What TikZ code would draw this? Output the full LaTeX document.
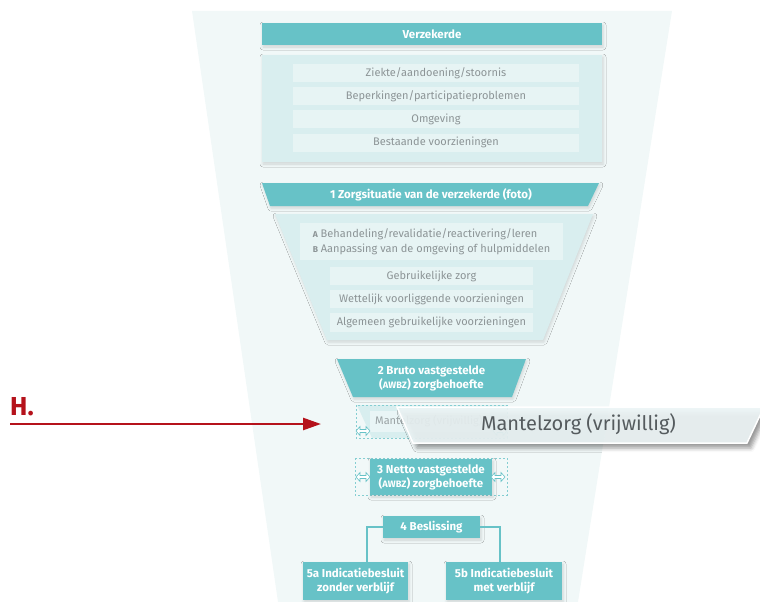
\documentclass[tikz,border=0pt]{standalone}
\usepackage{fontspec}
\setmainfont{Fira Sans}
\usetikzlibrary{shadows.blur,calc,arrows.meta}
\definecolor{tealA}{HTML}{67C2C7}
\definecolor{panelC}{HTML}{D9EEEF}
\definecolor{rowC}{HTML}{E7F4F4}
\definecolor{funnelC}{HTML}{F1F8F8}
\definecolor{grayT}{HTML}{8C9496}
\definecolor{darkT}{HTML}{555B5E}
\definecolor{redH}{HTML}{B5121B}
\definecolor{overC}{HTML}{EDF6F7}
\tikzset{
  shad/.style={blur shadow={shadow xshift=1pt,shadow yshift=-2pt,shadow blur radius=3pt,shadow opacity=14}},
  bigshad/.style={blur shadow={shadow xshift=4pt,shadow yshift=-5pt,shadow blur radius=4pt,shadow opacity=40}},
  tealbox/.style={fill=tealA,text=white,font=\fontsize{11.5}{14}\selectfont\bfseries,inner sep=0pt,align=center,shad},
  tealtext/.style={text=white,font=\fontsize{11.5}{14}\selectfont\bfseries,inner sep=0pt,align=center},
  rowbox/.style={fill=rowC,text=grayT,font=\fontsize{11}{13}\selectfont,inner sep=0pt,minimum height=18pt},
  conn/.style={draw=tealA,line width=1.8pt},
  dashbox/.style={draw=tealA!80,line width=.5pt,dash pattern=on 2pt off 2pt},
  dbl/.pic={\draw[tealA,fill=white,line width=.6pt] (-7,0)--(-3,-4.5)--(-3,-1.5)--(3,-1.5)--(3,-4.5)--(7,0)--(3,4.5)--(3,1.5)--(-3,1.5)--(-3,4.5)--cycle;}
}
\newcommand\smc[1]{{\fontsize{9.3}{10}\selectfont #1}}
\begin{document}
\begin{tikzpicture}[x=1pt,y=-1pt]
\useasboundingbox (0,0) rectangle (760,602);
% funnel background
\fill[funnelC] (192,11) -- (672,11) -- (578,602) -- (278,602) -- cycle;

% Verzekerde
\node[tealbox,minimum width=340pt,minimum height=22pt] (verz) at (432,34) {Verzekerde};
\node[fill=panelC,minimum width=340pt,minimum height=107pt,inner sep=0pt,shad] (pan1) at (432,108.5) {};
\node[rowbox,minimum width=286pt] (r1) at (436,73) {Ziekte/aandoening/stoornis};
\node[rowbox,minimum width=286pt] (r2) at (436,96) {Beperkingen/participatieproblemen};
\node[rowbox,minimum width=286pt] (r3) at (436,119) {Omgeving};
\node[rowbox,minimum width=286pt] (r4) at (436,142.5) {Bestaande voorzieningen};

% 1 Zorgsituatie
\fill[tealA,shad] (262,183) -- (599,183) -- (588,206) -- (270,206) -- cycle;
\node[tealtext] (zorg) at (431,194.5) {1 Zorgsituatie van de verzekerde (foto)};
\fill[panelC,shad] (275,214) -- (593,214) -- (543,340) -- (327,340) -- cycle;
\node[rowbox,minimum width=263pt,minimum height=37pt,align=left,font=\fontsize{11}{15}\selectfont] (ab) at (431.5,241.5)
  {{\fontsize{8.5}{10}\selectfont\bfseries A} Behandeling/revalidatie/reactivering/leren\\{\fontsize{8.5}{10}\selectfont\bfseries B} Aanpassing van de omgeving of hulpmiddelen};
\node[rowbox,minimum width=203pt] (g1) at (431.5,276) {Gebruikelijke zorg};
\node[rowbox,minimum width=203pt] (g2) at (431.5,299) {Wettelijk voorliggende voorzieningen};
\node[rowbox,minimum width=203pt,minimum height=19pt] (g3) at (431.5,322.5) {Algemeen gebruikelijke voorzieningen};

% 2 Bruto
\fill[tealA,shad] (337,359) -- (526,359) -- (512,397) -- (353,397) -- cycle;
\node[tealtext] (bruto) at (431.5,378) {2 Bruto vastgestelde\\(\smc{AWBZ}) zorgbehoefte};

% small faded Mantelzorg
\fill[tealA,opacity=.18] (357,405) -- (507,405) -- (507,438) -- (372,438) -- cycle;
\fill[white,opacity=.45] (370,411) rectangle (490,432);
\draw[dashbox] (356,405) rectangle (507,438);
\node[anchor=west,text=grayT,font=\fontsize{11}{13}\selectfont,inner sep=0pt,opacity=.85] (mzs) at (375,421) {Mantelzorg (vrijwillig)};
\pic at (363,431) {dbl};
\pic at (500,431) {dbl};

% big Mantelzorg overlay
\fill[overC,opacity=.9,bigshad] (397,407) -- (764,407) -- (747,443) -- (413,443) -- cycle;
\draw[white,line width=1.5pt] (397,407) -- (764,407) -- (747,443) -- (413,443) -- cycle;
\node[text=darkT,font=\fontsize{20}{22}\selectfont,inner sep=0pt] (mzb) at (578.5,424) {Mantelzorg (vrijwillig)};

% 3 Netto
\draw[dashbox] (355,458) rectangle (507,495);
\node[tealbox,minimum width=122pt,minimum height=36pt] (netto) at (431,477) {3 Netto vastgestelde\\(\smc{AWBZ}) zorgbehoefte};
\pic at (363,477) {dbl};
\pic at (498,477) {dbl};

% 4 Beslissing and 5a/5b
\node[tealbox,minimum width=97pt,minimum height=22pt] (besl) at (431.5,527) {4 Beslissing};
\node[tealbox,minimum width=105pt,minimum height=38pt] (z5a) at (355.5,581) {5a Indicatiebesluit\\zonder verblijf};
\node[tealbox,minimum width=116pt,minimum height=38pt] (z5b) at (504,581) {5b Indicatiebesluit\\met verblijf};
\draw[conn] (besl.west) -| ($(z5a.north)+(11.5,0)$);
\draw[conn] (besl.east) -| ($(z5b.north)+(-4,0)$);

% H.
\node[anchor=base west,text=redH,font=\fontsize{26}{26}\selectfont\bfseries,inner sep=0pt] (hlab) at (10,415) {H.};
\coordinate (hs) at (10,424);
\coordinate (he) at (321,424);
\draw[redH,line width=2.5pt,-{Triangle[length=18pt,width=12pt]}] (hs) -- (he);
\end{tikzpicture}
\end{document}
